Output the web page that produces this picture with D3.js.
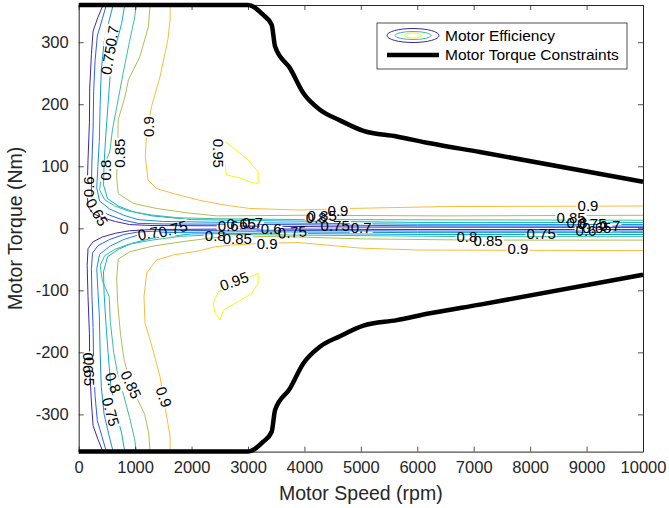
<!DOCTYPE html>
<html lang="en">
<head>
<meta charset="UTF-8">
<title>Motor Efficiency Map</title>
<script src="https://d3js.org/d3.v7.min.js"></script>
<style>
    body { margin: 0; background: #fff; }
    svg { font-family: "Liberation Sans", Arial, Helvetica, sans-serif; }
    .tick text { fill: #262626; font-size: 16.5px; }
    .tick line, .domain { stroke: #262626; }
    .axis-label { fill: #262626; font-size: 19.5px; text-anchor: middle; }
    .clabel { fill: #000; font-size: 15px; text-anchor: middle; dominant-baseline: central; }
</style>
</head>
<body>
<div id="chart"></div>
<script>
// axis ticks
const speedTicks = [0, 1000, 2000, 3000, 4000, 5000, 6000, 7000, 8000, 9000, 10000];
const torqueTicks = [-300, -200, -100, 0, 100, 200, 300];

// contour levels
const levels = [0.6, 0.65, 0.7, 0.75, 0.8, 0.85, 0.9, 0.95];

// contour lines, [rpm, Nm]
const eff60 = [
    [[430,360],[340,340],[255,318],[225,280],[195,226],[190,170],[165,110],[150,60],[165,35],[250,24],[420,17],[650,11],[900,6],[1300,4.5],[2500,4],[5000,2],[10000,1.5]],
    [[430,-360],[340,-340],[255,-318],[225,-280],[195,-226],[190,-170],[165,-110],[150,-60],[165,-33],[250,-22],[420,-14],[650,-8],[900,-4],[1300,-2],[3000,-1],[6000,-2],[10000,-2]]
];
const eff65 = [
    [[490,360],[420,338],[330,310],[290,270],[265,220],[255,160],[235,110],[225,65],[245,42],[340,30],[550,21],[800,13],[1050,8],[1500,7],[3000,6.5],[6000,4],[10000,3.5]],
    [[490,-360],[420,-338],[330,-310],[290,-270],[265,-220],[255,-160],[235,-110],[225,-65],[245,-40],[340,-28],[550,-18],[800,-10],[1050,-6],[1500,-4],[3000,-3],[6000,-4.5],[10000,-4.5]]
];
const eff70 = [
    [[610,360],[540,335],[450,300],[400,255],[380,200],[365,140],[340,100],[320,65],[370,44],[550,31],[800,21],[1050,14],[1500,11],[3000,9],[6000,6.5],[10000,6]],
    [[610,-360],[540,-335],[450,-300],[400,-255],[380,-200],[365,-140],[340,-100],[320,-65],[370,-42],[550,-29],[800,-18],[1050,-11],[1500,-7],[3000,-5.5],[6000,-7],[10000,-7]]
];
const eff75 = [
    [[815,360],[760,330],[650,292],[560,250],[520,200],[480,150],[450,105],[440,70],[510,48],[700,36],[950,27],[1300,20],[2000,14],[3500,12],[6000,9.5],[10000,9.5]],
    [[815,-360],[760,-330],[660,-295],[570,-255],[520,-200],[480,-150],[450,-105],[440,-70],[510,-46],[700,-34],[950,-24],[1300,-16],[2000,-9],[3500,-8],[6000,-10],[10000,-10]]
];
const eff80 = [
    [[1020,360],[990,339],[900,301],[815,263],[725,220],[600,160],[550,123],[420,95],[370,62],[460,46],[640,36],[875,28],[1285,21.5],[1760,17],[2400,15.5],[4000,14],[10000,13]],
    [[1020,-360],[990,-339],[900,-305],[800,-270],[700,-240],[620,-200],[560,-150],[540,-110],[420,-85],[380,-60],[460,-44],[640,-34],[875,-26],[1300,-19],[1800,-13],[2500,-10],[4000,-11],[7000,-13.5],[10000,-13.5]]
];
const eff85 = [
    [[1265,360],[1235,325],[1085,277],[880,239],[820,212],[700,175],[690,130],[673,83],[700,56],[970,40],[1380,32],[1915,25],[2445,20],[4000,21],[6500,20],[10000,21]],
    [[1265,-360],[1240,-330],[1170,-300],[960,-260],[900,-245],[800,-210],[740,-170],[690,-120],[673,-80],[700,-50],[900,-38],[1300,-29],[1800,-22],[2400,-15],[3500,-13],[5000,-17],[7000,-19],[10000,-19]]
];
const eff90 = [
    [[1620,360],[1620,336],[1580,304],[1440,244],[1290,196],[1200,150],[1180,115],[1230,78],[1380,64],[1680,56],[2150,45],[2620,37],[3030,32],[3900,29.5],[4800,32],[6500,35],[10000,36]],
    [[1620,-360],[1620,-336],[1550,-298],[1440,-239],[1380,-218],[1265,-180],[1175,-153],[1157,-110],[1205,-72],[1380,-51],[1680,-43],[2155,-36],[2400,-30],[2700,-27],[3300,-24],[3900,-23],[5000,-32],[6000,-35],[10000,-36]]
];
const eff95 = [
    [[2505,145],[2680,134],[3005,110],[3180,91],[3180,72.5],[3065,73.5],[2890,80.6],[2620,86],[2505,145]],
    [[3180,-72.5],[3180,-89],[3065,-105],[2830,-118],[2560,-132],[2505,-148],[2415,-137],[2385,-121],[2475,-102],[3180,-72.5]]
];
const contourLines = [eff60, eff65, eff70, eff75, eff80, eff85, eff90, eff95];

// inline labels: [level, rpm, Nm, angle]
const contourLabels = [
    [0.7, 590, 310, -80], [0.75, 520, 271, -80], [0.85, 730, 121, -90], [0.9, 1235, 164, -90],
    [0.95, 2470, 121, 90], [0.8, 470, 94, -90], [0.6, 165, 67, -90], [0.65, 325, 26, 60],
    [0.6, 180, -217, 90], [0.65, 200, -231, 90], [0.8, 610, -249, 70], [0.75, 570, -296, 75],
    [0.85, 930, -252, 65], [0.9, 1510, -272, 70], [0.95, 2755, -85, -20],
    [0.7, 1230, -8, -10], [0.75, 1670, -1, -15], [0.8, 2420, -12, 0], [0.85, 2810, -17, 0],
    [0.6, 2650, 4, 0], [0.65, 2880, 8, 0], [0.7, 3080, 9, 0], [0.6, 3410, 0, 0], [0.75, 3785, -6, -5],
    [0.9, 3340, -25, 0], [0.8, 4210, 17, 0], [0.85, 4315, 20, 0], [0.9, 4595, 29.5, 0],
    [0.75, 4545, 4, 0], [0.7, 5005, 0.5, 0],
    [0.8, 6880, -14, 0], [0.85, 7255, -19, 0], [0.75, 8195, -9, 0], [0.9, 7785, -33, 0],
    [0.9, 9025, 36, 0], [0.85, 8725, 17, 0], [0.8, 8830, 10, 0], [0.75, 9095, 8.5, 0],
    [0.7, 9415, 5, 0], [0.65, 9180, 2, 0], [0.6, 8990, -3, 0]
];

// max torque envelope
const envSpeed = [0, 3000, 3270, 3420, 3480, 3745, 3980, 4275, 4630, 5045, 5635, 6225, 7110, 10000];
const envTorque = [360, 360, 344, 328, 293, 258, 218, 191, 174, 157, 148, 137, 123, 75];

const W = 669, H = 508;
const svg = d3.select('#chart').append('svg').attr('width', W).attr('height', H);

const x = d3.scaleLinear().domain([0, 10000]).range([78.7, 643]);
const y = d3.scaleLinear().domain([-360, 360]).range([451.6, 5]);

const parula = d3.scaleLinear()
    .domain([0.6, 0.65, 0.7, 0.75, 0.8, 0.85, 0.9, 0.95])
    .range(['#3e26a8', '#2c5fe8', '#168fe2', '#0bb0c8', '#3dbd9a', '#abbe58', '#fbbb3a', '#f6f614']);

svg.append('rect').attr('x', x(0)).attr('y', y(360))
    .attr('width', x(10000) - x(0)).attr('height', y(-360) - y(360)).attr('fill', '#fff');

const defs = svg.append('defs');
defs.append('clipPath').attr('id', 'plot-clip').append('rect')
    .attr('x', x(0)).attr('y', y(360)).attr('width', x(10000) - x(0)).attr('height', y(-360) - y(360));

const line = d3.line().x(d => x(d[0])).y(d => y(d[1]));

const linesG = svg.append('g').attr('clip-path', 'url(#plot-clip)');
const labelsG = svg.append('g');

// labels first so they can be measured for the line gaps
const labelNodes = labelsG.selectAll('text')
    .data(contourLabels)
    .enter().append('text')
    .attr('class', 'clabel')
    .attr('transform', d => `translate(${x(d[1])},${y(d[2])}) rotate(${d[3]})`)
    .text(d => String(d[0]));

levels.forEach((lv, i) => {
    const mask = defs.append('mask').attr('id', 'gap' + i).attr('maskUnits', 'userSpaceOnUse')
        .attr('x', 0).attr('y', 0).attr('width', W).attr('height', H);
    mask.append('rect').attr('width', W).attr('height', H).attr('fill', '#fff');
    labelNodes.filter(d => d[0] === lv).each(function (d) {
        const w = this.getComputedTextLength() + 2;
        mask.append('rect')
            .attr('x', -w / 2).attr('y', -7)
            .attr('width', w).attr('height', 14)
            .attr('fill', '#000')
            .attr('transform', `translate(${x(d[1])},${y(d[2])}) rotate(${d[3]})`);
    });
    linesG.append('g').attr('mask', `url(#gap${i})`)
        .selectAll('path')
        .data(contourLines[i])
        .enter().append('path')
        .attr('d', line)
        .attr('fill', 'none')
        .attr('stroke', parula(lv))
        .attr('stroke-width', 1);
});

// axes with inward ticks, box on
const fmt = d => String(d);
svg.append('g').attr('transform', `translate(0,${y(-360)})`)
    .call(d3.axisBottom(x).tickValues(speedTicks).tickFormat(fmt).tickSizeInner(-5).tickSizeOuter(0).tickPadding(10))
    .call(g => g.selectAll('.tick text').attr('dy', '0.71em'));
svg.append('g').attr('transform', `translate(0,${y(360)})`)
    .call(d3.axisTop(x).tickValues(speedTicks).tickSizeInner(-5).tickSizeOuter(0).tickFormat(''));
svg.append('g').attr('transform', `translate(${x(0)},0)`)
    .call(d3.axisLeft(y).tickValues(torqueTicks).tickFormat(fmt).tickSizeInner(-5).tickSizeOuter(0).tickPadding(10));
svg.append('g').attr('transform', `translate(${x(10000)},0)`)
    .call(d3.axisRight(y).tickValues(torqueTicks).tickSizeInner(-5).tickSizeOuter(0).tickFormat(''));
svg.selectAll('.domain').attr('stroke-width', 1);
svg.selectAll('.tick line').attr('stroke-width', 0.8);

// torque envelope (upper and lower)
const env = envSpeed.map((s, i) => [s, envTorque[i]]);
const envLow = envSpeed.map((s, i) => [s, -envTorque[i]]);
const envLine = d3.line().x(d => x(d[0])).y(d => y(d[1])).curve(d3.curveMonotoneX);
svg.selectAll('.env')
    .data([env, envLow])
    .enter().append('path')
    .attr('class', 'env')
    .attr('d', envLine)
    .attr('fill', 'none')
    .attr('stroke', '#000')
    .attr('stroke-width', 4.5)
    .attr('stroke-linejoin', 'round');

labelsG.raise();

// axis labels
svg.append('text').attr('class', 'axis-label')
    .attr('x', (x(0) + x(10000)) / 2).attr('y', 500)
    .text('Motor Speed (rpm)');
svg.append('text').attr('class', 'axis-label')
    .attr('transform', `translate(22,${(y(-360) + y(360)) / 2}) rotate(-90)`)
    .text('Motor Torque (Nm)');

// legend
const lg = svg.append('g').attr('transform', 'translate(377,23)');
lg.append('rect').attr('width', 250).attr('height', 46)
    .attr('fill', '#fff').attr('stroke', '#262626').attr('stroke-width', 0.8);
[[26, 7, 0.6], [18, 4, 0.8], [8.5, 2.5, 0.95]].forEach(e => {
    lg.append('ellipse').attr('cx', 36).attr('cy', 12.5)
        .attr('rx', e[0]).attr('ry', e[1])
        .attr('fill', 'none').attr('stroke', parula(e[2])).attr('stroke-width', 1);
});
lg.append('line').attr('x1', 10).attr('x2', 62).attr('y1', 32).attr('y2', 32)
    .attr('stroke', '#000').attr('stroke-width', 4.5);
lg.append('text').attr('x', 68).attr('y', 12.5).attr('dy', '0.35em')
    .attr('font-size', 15.5).attr('fill', '#000').text('Motor Efficiency');
lg.append('text').attr('x', 68).attr('y', 32).attr('dy', '0.35em')
    .attr('font-size', 15.5).attr('fill', '#000').text('Motor Torque Constraints');
</script>
</body>
</html>
